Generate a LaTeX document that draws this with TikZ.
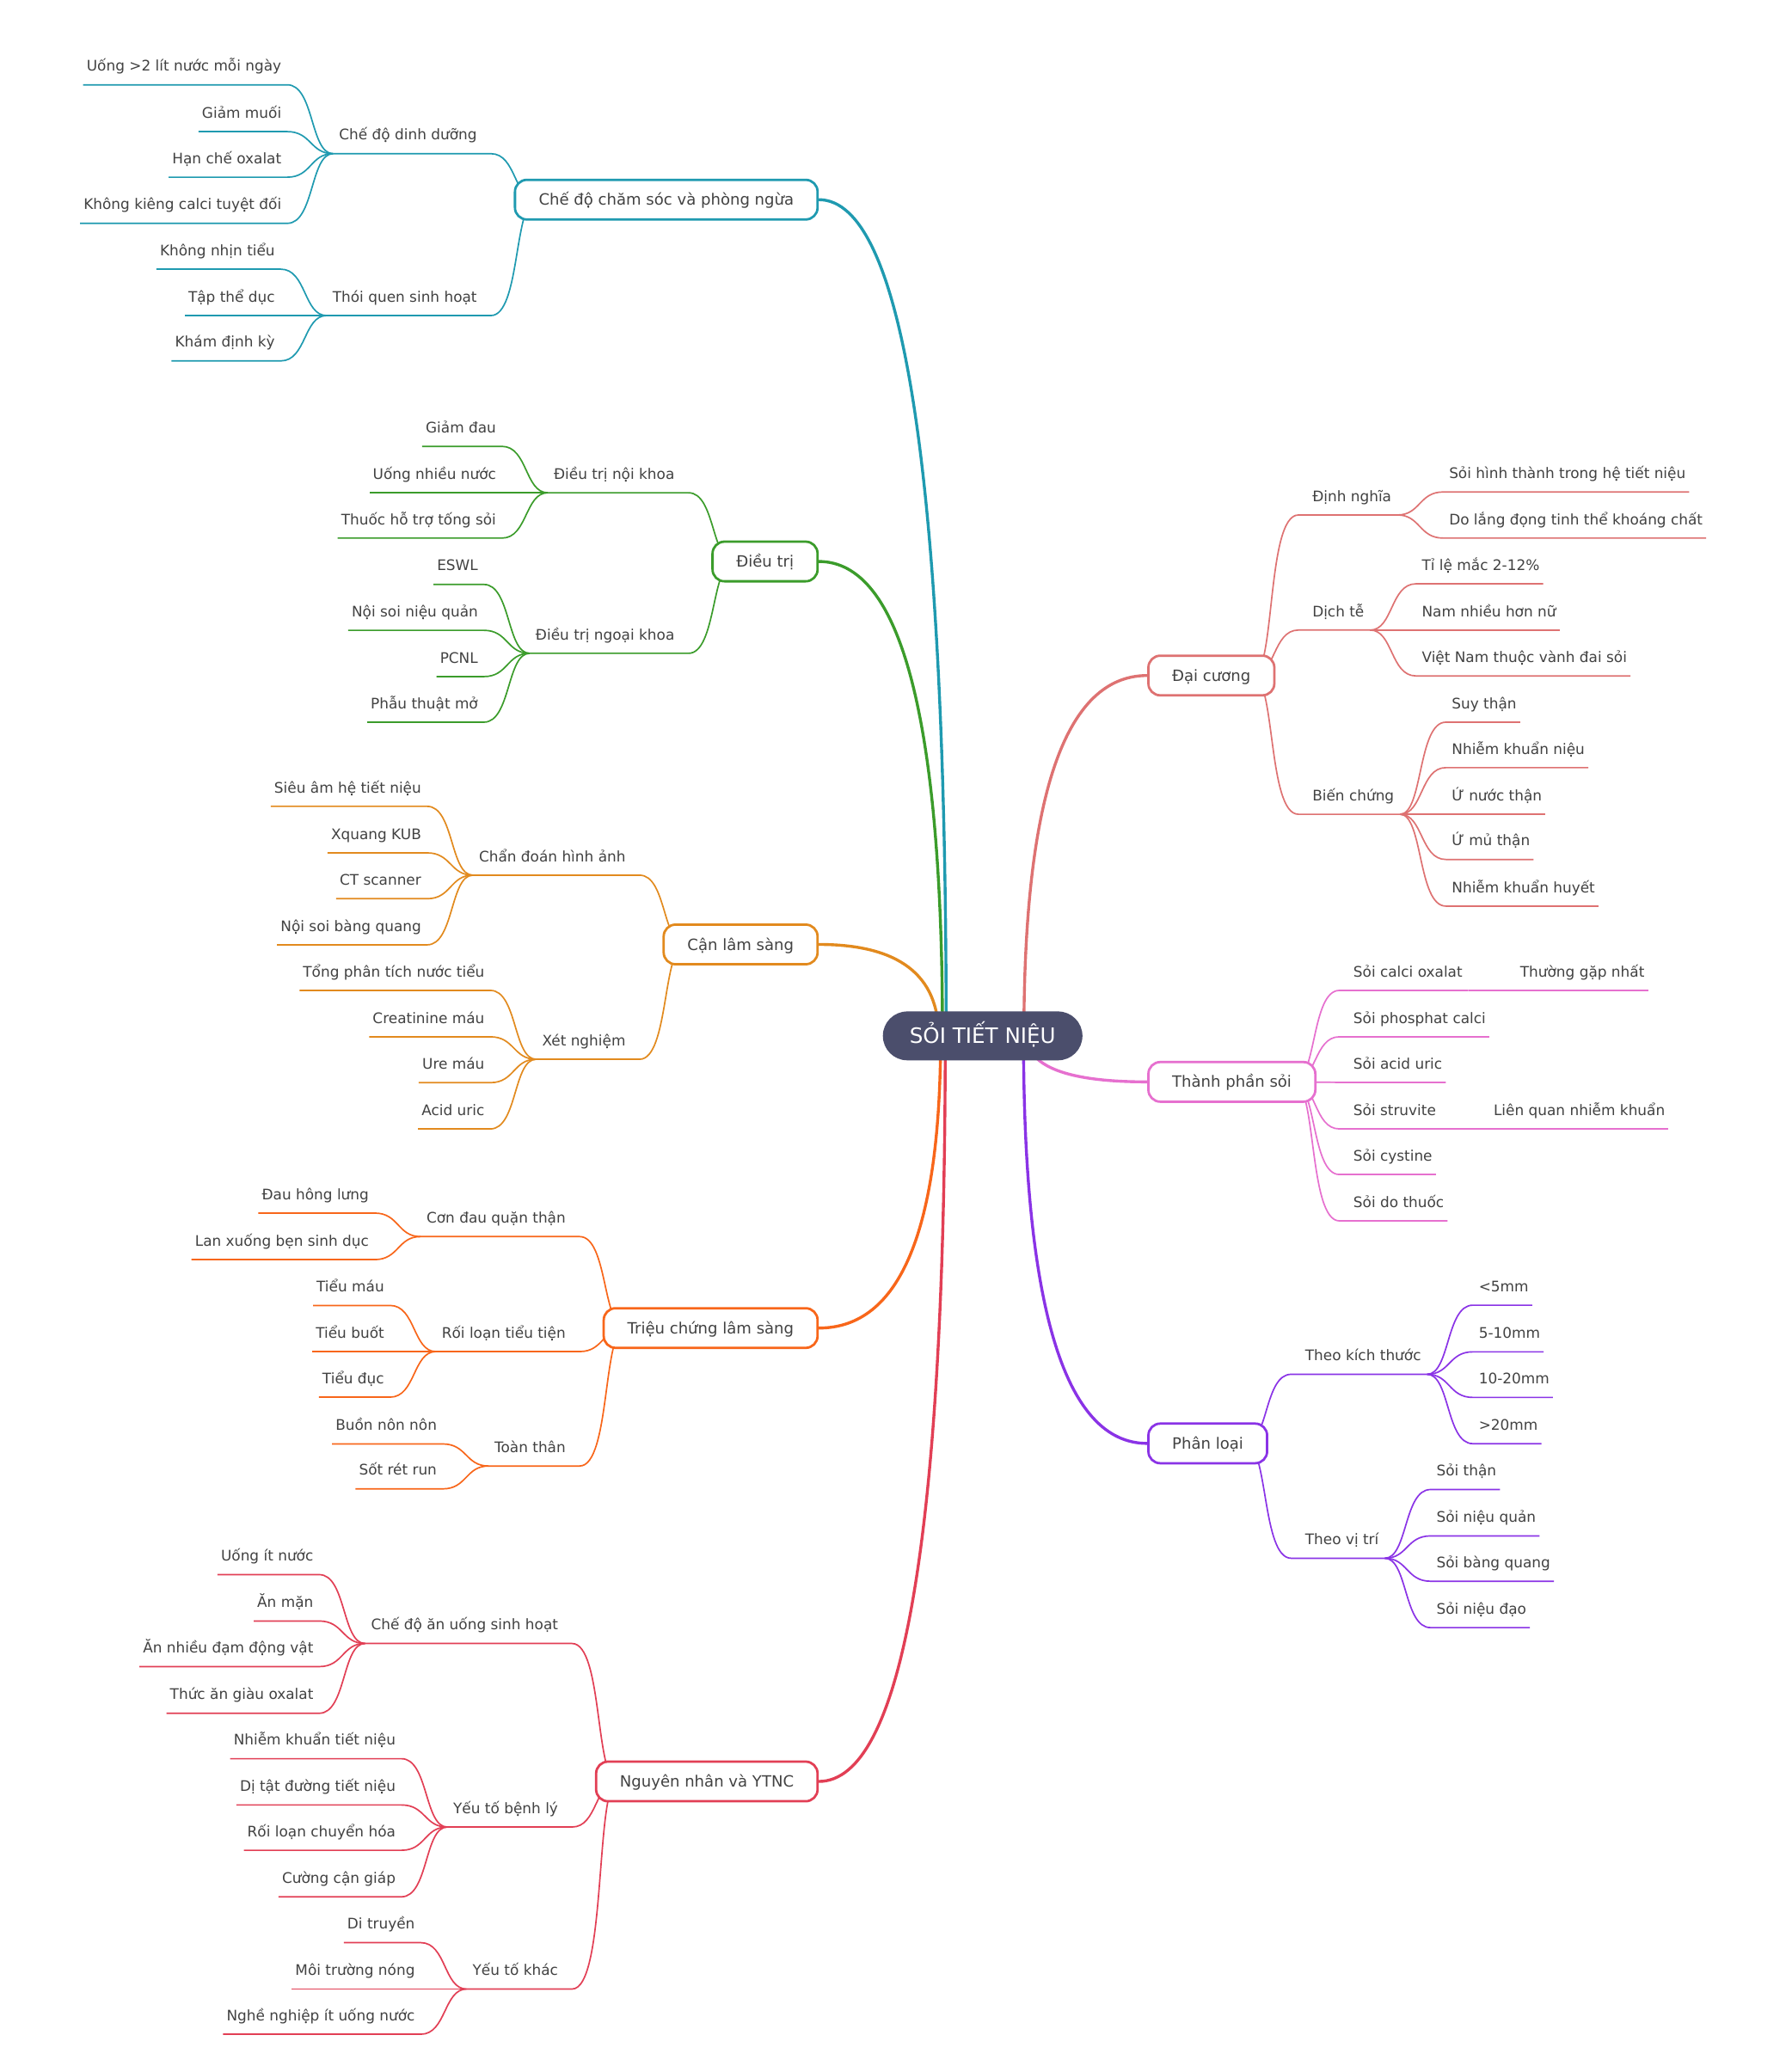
\documentclass[tikz,border=0pt]{standalone}
\usepackage{fontspec}
\setmainfont{DejaVu Sans}
\usetikzlibrary{calc}
\definecolor{cteal}{HTML}{1F9AB0}
\definecolor{cgreen}{HTML}{3B9C2B}
\definecolor{corange}{HTML}{E28A1E}
\definecolor{cvermil}{HTML}{F8661A}
\definecolor{cred}{HTML}{E23F55}
\definecolor{csalmon}{HTML}{DE7272}
\definecolor{cpink}{HTML}{E670CF}
\definecolor{cpurple}{HTML}{8A33E6}
\definecolor{croot}{HTML}{4B4E6C}
\definecolor{txt}{HTML}{424242}
\pgfdeclarelayer{back0}
\pgfdeclarelayer{background}
\pgfsetlayers{back0,background,main}
\tikzset{
 lab/.style={inner sep=0pt, font=\fontsize{11}{13}\selectfont, text=txt},
 mbox/.style={fill=white, line width=1.8pt, rounded corners=9pt, minimum height=30pt, inner xsep=18pt, inner ysep=0pt, text height=8.5pt, text depth=0pt, font=\fontsize{11.75}{14}\selectfont, text=txt},
 mline/.style={line width=2.2pt},
 sline/.style={line width=1.1pt},
 rootbox/.style={fill=croot, rounded corners=18.5pt, minimum height=37pt, minimum width=151pt, inner sep=0pt, text height=11.7pt, text depth=0pt, text=white, font=\fontsize{16}{19}\selectfont}
}
% main branch, left side: #1 name, #2 text, #3 colour, #4 centre y, #5 start offset from root centre
\newcommand\mainL[5]{%
  \node[mbox, draw=#3, anchor=east] (#1) at (619.5,#4) {#2};
  \coordinate (#1-s) at ($(root.center)+(#5,0)$);
  \coordinate (#1-c) at (#1-s |- #1.east);
  \begin{pgfonlayer}{background}
  \draw[mline, #3] (#1-s) .. controls ($(#1-s)!2/3!(#1-c)$) and ($(#1.east)!2/3!(#1-c)$) .. (#1.east);
  \end{pgfonlayer}
}
\newcommand\mainR[5]{%
  \node[mbox, draw=#3, anchor=west] (#1) at (868,#4) {#2};
  \coordinate (#1-s) at ($(root.center)+(#5,0)$);
  \coordinate (#1-c) at (#1-s |- #1.west);
  \begin{pgfonlayer}{background}
  \draw[mline, #3] (#1-s) .. controls ($(#1-s)!2/3!(#1-c)$) and ($(#1.west)!2/3!(#1-c)$) .. (#1.west);
  \end{pgfonlayer}
}
% second level, left: #1 name, #2 box, #3 underline y, #4 text, #5 colour, #6 box centre y
\newcommand\subL[6]{%
  \node[lab, anchor=base east] (#1) at ($(#2.west |- 0,#3)+(-27.7,-10.3)$) {#4};
  \begin{pgfonlayer}{background}
  \draw[sline, #5] ($(#2.west |- 0,#6)+(17.3,0)$) .. controls (#2.west |- 0,#6) and ($(#2.west |- 0,#3)+({abs(#3-#6)*0.0577},0)$) .. ($(#2.west |- 0,#3)+(-17.3,0)$) -- ($(#1.west |- 0,#3)+(-4.4,0)$);
  \end{pgfonlayer}
}
\newcommand\subR[7]{%
  \node[lab, anchor=base west] (#1) at ($(#2.east |- 0,#3)+(27.7,-10.3)$) {#4};
  \begin{pgfonlayer}{background}
  \draw[sline, #5] ($(#2.east |- 0,#6)+(-17.3,0)$) .. controls (#2.east |- 0,#6) and ($(#2.east |- 0,#3)+({-abs(#3-#6)*0.0577},0)$) .. ($(#2.east |- 0,#3)+(17.3,0)$) -- ($(#1.east |- 0,#3)+(#7,0)$);
  \end{pgfonlayer}
}
% leaves: #1 name, #2 parent, #3 underline y, #4 text, #5 colour, #6 parent underline y
\newcommand\leafL[6]{%
  \node[lab, anchor=base east] (#1) at ($(#2.west |- 0,#3)+(-43.3,-10.3)$) {#4};
  \begin{pgfonlayer}{background}
  \draw[sline, #5] ($(#2.west |- 0,#6)+(-4.4,0)$) .. controls ($(#2.west |- 0,#6)+(-21.7,0)$) and ($(#2.west |- 0,#3)+({-21.7+abs(#3-#6)*0.0577},0)$) .. ($(#2.west |- 0,#3)+(-39,0)$) -- ($(#1.west |- 0,#3)+(-2.5,0)$);
  \end{pgfonlayer}
}
\newcommand\leafR[6]{%
  \node[lab, anchor=base west] (#1) at ($(#2.east |- 0,#3)+(43.3,-10.3)$) {#4};
  \begin{pgfonlayer}{background}
  \draw[sline, #5] ($(#2.east |- 0,#6)+(4.4,0)$) .. controls ($(#2.east |- 0,#6)+(21.7,0)$) and ($(#2.east |- 0,#3)+({21.7-abs(#3-#6)*0.0577},0)$) .. ($(#2.east |- 0,#3)+(39,0)$) -- ($(#1.east |- 0,#3)+(2.5,0)$);
  \end{pgfonlayer}
}
\begin{document}
\begin{tikzpicture}[x=1pt,y=-1pt]
\begin{pgfonlayer}{back0}
\fill[white] (0,0) rectangle (1351,1568);
\end{pgfonlayer}
\useasboundingbox (0,0) rectangle (1351,1568);
\node[rootbox] (root) at (743.5,783.9) {SỎI TIẾT NIỆU};

% ---- Chế độ chăm sóc
\mainL{A}{Chế độ chăm sóc và phòng ngừa}{cteal}{151.1}{-27.6}
\subL{A1}{A}{116.3}{Chế độ dinh dưỡng}{cteal}{151.1}
\leafL{A11}{A1}{64.2}{Uống >2 lít nước mỗi ngày}{cteal}{116.3}
\leafL{A12}{A1}{99.6}{Giảm muối}{cteal}{116.3}
\leafL{A13}{A1}{134.1}{Hạn chế oxalat}{cteal}{116.3}
\leafL{A14}{A1}{169}{Không kiêng calci tuyệt đối}{cteal}{116.3}
\subL{A2}{A}{238.8}{Thói quen sinh hoạt}{cteal}{151.1}
\leafL{A21}{A2}{203.7}{Không nhịn tiểu}{cteal}{238.8}
\leafL{A22}{A2}{238.8}{Tập thể dục}{cteal}{238.8}
\leafL{A23}{A2}{273.1}{Khám định kỳ}{cteal}{238.8}

% ---- Điều trị
\mainL{B}{Điều trị}{cgreen}{424.9}{-30.4}
\subL{B1}{B}{372.9}{Điều trị nội khoa}{cgreen}{424.9}
\leafL{B11}{B1}{337.8}{Giảm đau}{cgreen}{372.9}
\leafL{B12}{B1}{372.9}{Uống nhiều nước}{cgreen}{372.9}
\leafL{B13}{B1}{407.2}{Thuốc hỗ trợ tống sỏi}{cgreen}{372.9}
\subL{B2}{B}{494.4}{Điều trị ngoại khoa}{cgreen}{424.9}
\leafL{B21}{B2}{442.3}{ESWL}{cgreen}{494.4}
\leafL{B22}{B2}{477}{Nội soi niệu quản}{cgreen}{494.4}
\leafL{B23}{B2}{512}{PCNL}{cgreen}{494.4}
\leafL{B24}{B2}{546.5}{Phẫu thuật mở}{cgreen}{494.4}

% ---- Cận lâm sàng
\mainL{C}{Cận lâm sàng}{corange}{714.7}{-33.3}
\subL{C1}{C}{662.3}{Chẩn đoán hình ảnh}{corange}{714.7}
\leafL{C11}{C1}{610.2}{Siêu âm hệ tiết niệu}{corange}{662.3}
\leafL{C12}{C1}{645.4}{Xquang KUB}{corange}{662.3}
\leafL{C13}{C1}{680.1}{CT scanner}{corange}{662.3}
\leafL{C14}{C1}{715}{Nội soi bàng quang}{corange}{662.3}
\subL{C2}{C}{801.6}{Xét nghiệm}{corange}{714.7}
\leafL{C21}{C2}{749.5}{Tổng phân tích nước tiểu}{corange}{801.6}
\leafL{C22}{C2}{784.6}{Creatinine máu}{corange}{801.6}
\leafL{C23}{C2}{819.3}{Ure máu}{corange}{801.6}
\leafL{C24}{C2}{854.3}{Acid uric}{corange}{801.6}

% ---- Triệu chứng lâm sàng
\mainL{D}{Triệu chứng lâm sàng}{cvermil}{1005}{-31.8}
\subL{D1}{D}{935.8}{Cơn đau quặn thận}{cvermil}{1005}
\leafL{D11}{D1}{918}{Đau hông lưng}{cvermil}{935.8}
\leafL{D12}{D1}{953.2}{Lan xuống bẹn sinh dục}{cvermil}{935.8}
\subL{D2}{D}{1022.8}{Rối loạn tiểu tiện}{cvermil}{1005}
\leafL{D21}{D2}{987.9}{Tiểu máu}{cvermil}{1022.8}
\leafL{D22}{D2}{1022.8}{Tiểu buốt}{cvermil}{1022.8}
\leafL{D23}{D2}{1057.3}{Tiểu đục}{cvermil}{1022.8}
\subL{D3}{D}{1109.4}{Toàn thân}{cvermil}{1005}
\leafL{D31}{D3}{1092.7}{Buồn nôn nôn}{cvermil}{1109.4}
\leafL{D32}{D3}{1126.7}{Sốt rét run}{cvermil}{1109.4}

% ---- Nguyên nhân và YTNC
\mainL{E}{Nguyên nhân và YTNC}{cred}{1348.1}{-28.3}
\subL{E1}{E}{1243.7}{Chế độ ăn uống sinh hoạt}{cred}{1348.1}
\leafL{E11}{E1}{1191.6}{Uống ít nước}{cred}{1243.7}
\leafL{E12}{E1}{1226.7}{Ăn mặn}{cred}{1243.7}
\leafL{E13}{E1}{1261.2}{Ăn nhiều đạm động vật}{cred}{1243.7}
\leafL{E14}{E1}{1296.5}{Thức ăn giàu oxalat}{cred}{1243.7}
\subL{E2}{E}{1382.6}{Yếu tố bệnh lý}{cred}{1348.1}
\leafL{E21}{E2}{1330.9}{Nhiễm khuẩn tiết niệu}{cred}{1382.6}
\leafL{E22}{E2}{1365.9}{Dị tật đường tiết niệu}{cred}{1382.6}
\leafL{E23}{E2}{1400.2}{Rối loạn chuyển hóa}{cred}{1382.6}
\leafL{E24}{E2}{1435.4}{Cường cận giáp}{cred}{1382.6}
\subL{E3}{E}{1505.2}{Yếu tố khác}{cred}{1348.1}
\leafL{E31}{E3}{1470.1}{Di truyền}{cred}{1505.2}
\leafL{E32}{E3}{1505.2}{Môi trường nóng}{cred}{1505.2}
\leafL{E33}{E3}{1539.4}{Nghề nghiệp ít uống nước}{cred}{1505.2}

% ---- Đại cương
\mainR{F}{Đại cương}{csalmon}{511.2}{31.2}
\subR{F1}{F}{389.7}{Định nghĩa}{csalmon}{511.2}{4.4}
\leafR{F11}{F1}{372.3}{Sỏi hình thành trong hệ tiết niệu}{csalmon}{389.7}
\leafR{F12}{F1}{407.2}{Do lắng đọng tinh thể khoáng chất}{csalmon}{389.7}
\subR{F2}{F}{476.8}{Dịch tễ}{csalmon}{511.2}{4.4}
\leafR{F21}{F2}{441.8}{Tỉ lệ mắc 2-12\%}{csalmon}{476.8}
\leafR{F22}{F2}{476.8}{Nam nhiều hơn nữ}{csalmon}{476.8}
\leafR{F23}{F2}{511.5}{Việt Nam thuộc vành đai sỏi}{csalmon}{476.8}
\subR{F3}{F}{616.2}{Biến chứng}{csalmon}{511.2}{4.4}
\leafR{F31}{F3}{546.5}{Suy thận}{csalmon}{616.2}
\leafR{F32}{F3}{580.9}{Nhiễm khuẩn niệu}{csalmon}{616.2}
\leafR{F33}{F3}{616.2}{Ứ nước thận}{csalmon}{616.2}
\leafR{F34}{F3}{650.4}{Ứ mủ thận}{csalmon}{616.2}
\leafR{F35}{F3}{685.7}{Nhiễm khuẩn huyết}{csalmon}{616.2}

% ---- Thành phần sỏi
\mainR{G}{Thành phần sỏi}{cpink}{818.7}{33.6}
\subR{G1}{G}{749.5}{Sỏi calci oxalat}{cpink}{818.7}{4.4}
\leafR{G11}{G1}{749.5}{Thường gặp nhất}{cpink}{749.5}
\subR{G2}{G}{784.6}{Sỏi phosphat calci}{cpink}{818.7}{2.5}
\subR{G3}{G}{819.1}{Sỏi acid uric}{cpink}{818.7}{2.5}
\subR{G4}{G}{854.3}{Sỏi struvite}{cpink}{818.7}{4.4}
\leafR{G41}{G4}{854.3}{Liên quan nhiễm khuẩn}{cpink}{854.3}
\subR{G5}{G}{888.8}{Sỏi cystine}{cpink}{818.7}{2.5}
\subR{G6}{G}{923.9}{Sỏi do thuốc}{cpink}{818.7}{2.5}

% ---- Phân loại
\mainR{H}{Phân loại}{cpurple}{1092.3}{30.9}
\subR{H1}{H}{1040}{Theo kích thước}{cpurple}{1092.3}{4.4}
\leafR{H11}{H1}{987.7}{<5mm}{cpurple}{1040}
\leafR{H12}{H1}{1023}{5-10mm}{cpurple}{1040}
\leafR{H13}{H1}{1057.5}{10-20mm}{cpurple}{1040}
\leafR{H14}{H1}{1092.5}{>20mm}{cpurple}{1040}
\subR{H2}{H}{1179.2}{Theo vị trí}{cpurple}{1092.3}{4.4}
\leafR{H21}{H2}{1127.2}{Sỏi thận}{cpurple}{1179.2}
\leafR{H22}{H2}{1162.3}{Sỏi niệu quản}{cpurple}{1179.2}
\leafR{H23}{H2}{1196.6}{Sỏi bàng quang}{cpurple}{1179.2}
\leafR{H24}{H2}{1231.7}{Sỏi niệu đạo}{cpurple}{1179.2}
\end{tikzpicture}
\end{document}
